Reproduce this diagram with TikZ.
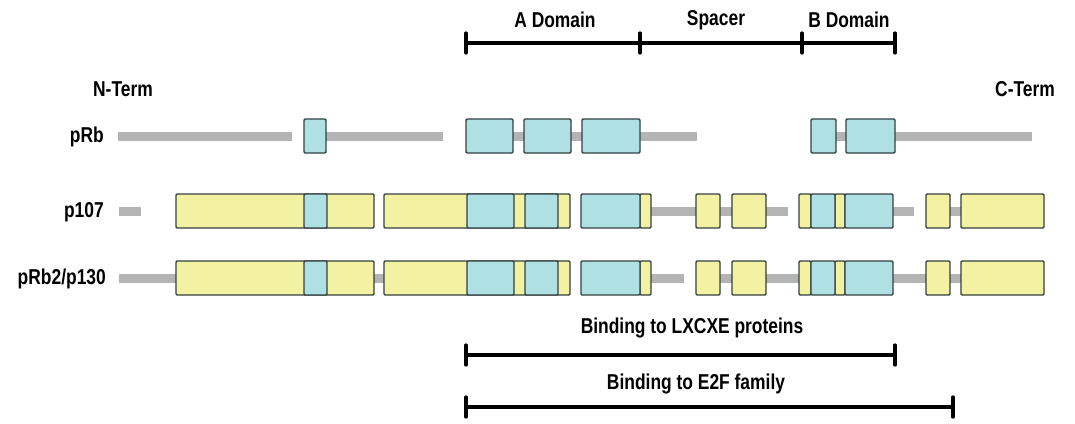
\documentclass[tikz,border=0pt]{standalone}
\usepackage{fontspec}
\setmainfont{Liberation Sans}[FakeStretch=0.81]
\begin{document}
\begin{tikzpicture}[x=1pt,y=-1pt,
  lbl/.style={font=\fontsize{21.5}{25}\selectfont\bfseries, inner sep=0pt},
  bluebox/.style={fill=boxblue, draw=boxline, line width=1.4pt, rounded corners=1.2pt},
  yellowbox/.style={fill=boxyellow, draw=boxline, line width=1.4pt, rounded corners=1.2pt},
  grayline/.style={draw=linegray, line width=9pt},
  domainbar/.style={draw=black, line width=4pt},
  tickmark/.style={draw=black, line width=3.2pt, line cap=round}]
\definecolor{boxblue}{HTML}{AEE0E4}
\definecolor{boxyellow}{HTML}{F2F2A2}
\definecolor{boxline}{HTML}{34403F}
\definecolor{linegray}{HTML}{B4B4B4}
\useasboundingbox[fill=white] (0,0) rectangle (1075,423);

% ---------- top domain bar ----------
\coordinate (t0) at (466,43);
\coordinate (t1) at (640,43);
\coordinate (t2) at (802,43);
\coordinate (t3) at (895,43);
\draw[domainbar] (t0) -- (t3);
\foreach \c in {t0,t1,t2,t3} \draw[tickmark] ([yshift=-10pt]\c) -- ([yshift=10pt]\c);
\node[lbl] (adom) at (555,20) {A Domain};
\node[lbl] (spacer) at (716,20) {Spacer};
\node[lbl] (bdom) at (849,20) {B Domain};

\node[lbl] (nterm) at (123,89) {N-Term};
\node[lbl] (cterm) at (1025,89) {C-Term};

% ---------- pRb ----------
\node[lbl, anchor=east] (prb) at (104,137) {pRb};
\foreach \a/\b in {118/292, 326/443, 466/697, 811/1032}
  \draw[grayline] (\a,136) -- (\b,136);
\foreach \a/\b in {304/326, 466/513, 524/571, 582/640, 811/836, 846/895}
  \draw[bluebox] (\a,119) rectangle (\b,153);

% ---------- p107 ----------
\node[lbl, anchor=east] (p107) at (104,212) {p107};
\foreach \a/\b in {119/141, 651/696, 720/732, 766/788, 893/914, 950/961}
  \draw[grayline] (\a,211) -- (\b,211);
\foreach \a/\b in {176/374, 384/570, 640/651, 696/720, 732/766, 799/811, 835/845, 926/950, 961/1044}
  \draw[yellowbox] (\a,194) rectangle (\b,228);
\foreach \a/\b in {304/327, 467/514, 525/558, 581/640, 811/835, 845/893}
  \draw[bluebox] (\a,194) rectangle (\b,228);

% ---------- pRb2/p130 ----------
\node[lbl, anchor=east] (p130) at (106,279) {pRb2/p130};
\foreach \a/\b in {119/176, 374/384, 651/684, 720/732, 766/799, 893/926, 950/961}
  \draw[grayline] (\a,278) -- (\b,278);
\foreach \a/\b in {176/374, 384/570, 640/651, 696/720, 732/766, 799/811, 835/845, 926/950, 961/1044}
  \draw[yellowbox] (\a,261) rectangle (\b,295);
\foreach \a/\b in {304/327, 467/514, 525/558, 581/640, 811/835, 845/893}
  \draw[bluebox] (\a,261) rectangle (\b,295);

% ---------- binding bars ----------
\node[lbl] (lxcxe) at (692,328) {Binding to LXCXE proteins};
\coordinate (l0) at (466,355);
\coordinate (l1) at (895,355);
\draw[domainbar] (l0) -- (l1);
\foreach \c in {l0,l1} \draw[tickmark] ([yshift=-10pt]\c) -- ([yshift=10pt]\c);

\node[lbl] (e2f) at (696,384) {Binding to E2F family};
\coordinate (e0) at (466,407);
\coordinate (e1) at (953,407);
\draw[domainbar] (e0) -- (e1);
\foreach \c in {e0,e1} \draw[tickmark] ([yshift=-10pt]\c) -- ([yshift=10pt]\c);
\end{tikzpicture}
\end{document}
